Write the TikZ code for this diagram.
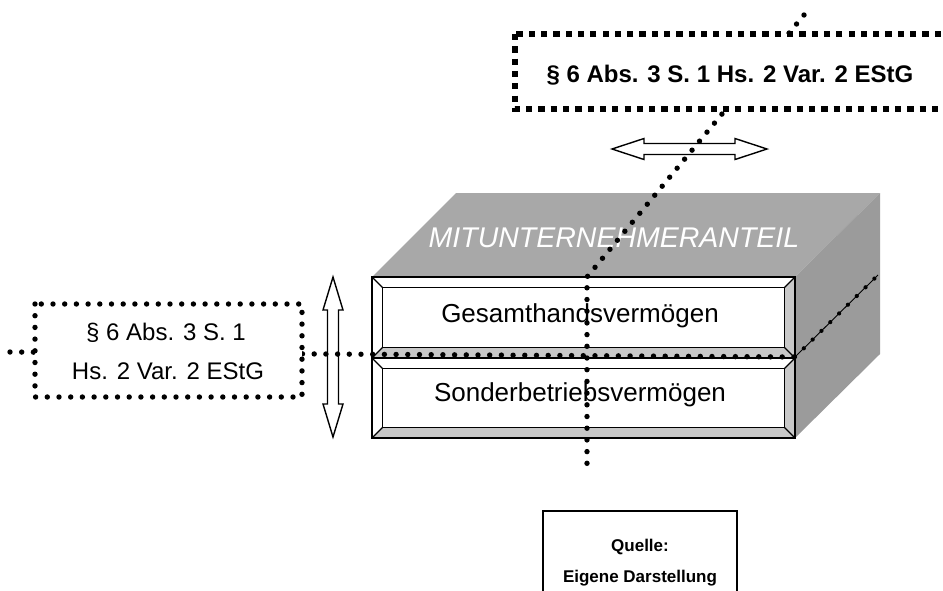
\documentclass[tikz,border=0pt]{standalone}
\usepackage{fontspec}
\setmainfont{Liberation Sans}
\definecolor{topface}{HTML}{A8A8A8}
\definecolor{sideface}{HTML}{9B9B9B}
\definecolor{bevelgray}{HTML}{C8C8C8}

% bevelled panel: x1 y1 x2 y2 bevel
\newcommand\bevelpanel[5]{%
  \fill[white] (#1,#2) rectangle (#3,#4);
  \fill[bevelgray] (#1,#4) -- (#3,#4) -- ({#3-#5},{#4-#5}) -- ({#1+#5},{#4-#5}) -- cycle;
  \fill[bevelgray] (#3,#2) -- (#3,#4) -- ({#3-#5},{#4-#5}) -- ({#3-#5},{#2+#5}) -- cycle;
  \draw[line width=1.4pt] ({#1+#5},{#2+#5}) rectangle ({#3-#5},{#4-#5});
  \draw[line width=1.2pt] (#1,#2) -- ({#1+#5},{#2+#5}) (#3,#2) -- ({#3-#5},{#2+#5})
        (#1,#4) -- ({#1+#5},{#4-#5}) (#3,#4) -- ({#3-#5},{#4-#5});
  \draw[line width=2pt] (#1,#2) rectangle (#3,#4);
}

\begin{document}
\begin{tikzpicture}[x=1pt,y=-1pt,
  rounddots/.style={line width=5.4pt, line cap=round, dash pattern=on 0pt off 11.7pt},
  smalldots/.style={line width=4.2pt, line cap=round, dash pattern=on 0pt off 12.4pt},
  squaredots/.style={line width=5.8pt, line cap=butt, dash pattern=on 6.2pt off 6.1pt},
  hollowarrow/.style={draw=black, fill=white, line width=1.4pt, line join=miter},
  paneltext/.style={inner sep=0pt, anchor=base, font=\fontsize{26}{30}\selectfont},
  boxtext/.style={inner sep=0pt, anchor=base, font=\fontsize{24}{28}\selectfont},
  sourcetext/.style={inner sep=0pt, anchor=base, font=\bfseries\fontsize{17}{20}\selectfont}]
\useasboundingbox (0,0) rectangle (943,590);
\begin{scope}
\clip (0,0) rectangle (943,590);

% the block: top and side faces
\fill[topface] (372,277) -- (456,193) -- (880,193) -- (795,277) -- cycle;
\fill[sideface] (795,277) -- (880,193) -- (880,354) -- (795,438) -- cycle;
\node[inner sep=0pt, anchor=base, text=white,
      font=\itshape\fontsize{28.5}{32}\selectfont] (title) at (614,247) {MITUNTERNEHMERANTEIL};

% front face: two bevelled panels
\bevelpanel{372}{277}{795}{358}{10.5}
\bevelpanel{372}{358}{795}{438}{10.5}
\node[paneltext] (gesamt) at (580,322) {Gesamthandsvermögen};
\node[paneltext] (sonder) at (580,401) {Sonderbetriebsvermögen};

% hollow double arrows
\draw[hollowarrow] (333,277) -- (343,310) -- (338.5,310) -- (338.5,404) -- (343,404)
  -- (333,437) -- (323,404) -- (327.5,404) -- (327.5,310) -- (323,310) -- cycle;
\draw[hollowarrow] (612,149) -- (644,138.5) -- (644,143.5) -- (735,143.5) -- (735,138.5)
  -- (767,149) -- (735,159.5) -- (735,154.5) -- (644,154.5) -- (644,159.5) -- cycle;

% dotted guide lines
\coordinate (vt) at (804,15);
\coordinate (vk) at (587,277);
\coordinate (vb) at (587,475);
\coordinate (h0) at (10,352);
\coordinate (h1) at (795,357);
\coordinate (h2) at (878,275);
\draw[rounddots] (vt) -- (vk) -- (vb);
\draw[rounddots] (h0) -- (h1);
\draw[line width=0.9pt] (h1) -- (h2);
\draw[smalldots] (h1) -- (h2);

% left dotted box
\draw[rounddots, fill=white] (35,304) rectangle (302,397);
\node[boxtext] (lefta) at (166,340) {§ 6 Abs. 3 S. 1};
\node[boxtext] (leftb) at (168,379) {Hs. 2 Var. 2 EStG};

% upper dotted box
\draw[squaredots, fill=white] (515,34) -- (515,109) -- (985,109) -- (985,34) -- cycle;
\node[boxtext, font=\bfseries\fontsize{24}{28}\selectfont] (upper) at (730,82) {§ 6 Abs. 3 S. 1 Hs. 2 Var. 2 EStG};

% source box
\draw[line width=2pt, fill=white] (543,511) rectangle (737,610);
\node[sourcetext] (quelle) at (640,551) {Quelle:};
\node[sourcetext] (eigene) at (640,582) {Eigene Darstellung};
\end{scope}
\end{tikzpicture}
\end{document}
